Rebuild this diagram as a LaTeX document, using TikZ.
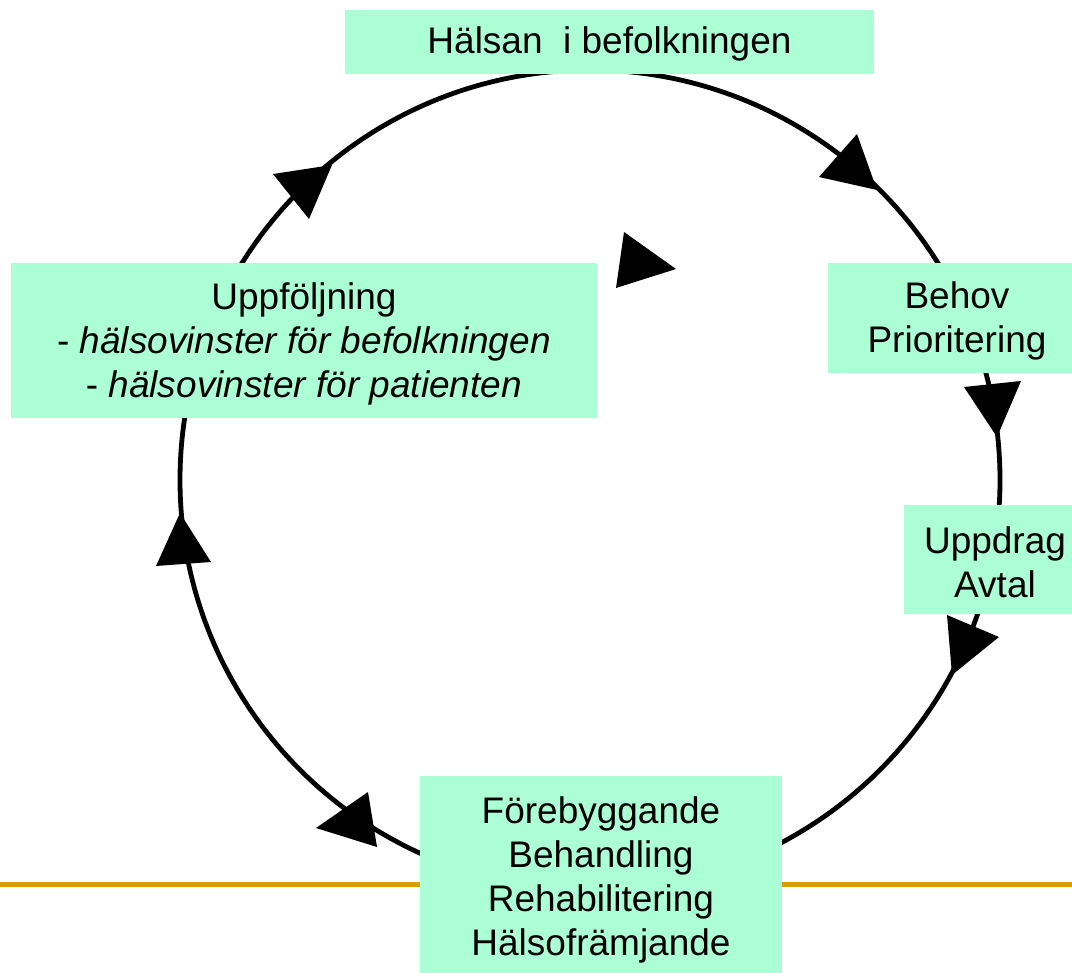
\documentclass[tikz,border=0pt]{standalone}
\usepackage{fontspec}
\setmainfont{Liberation Sans}
\definecolor{mint}{RGB}{172,255,213}
\definecolor{gold}{RGB}{212,160,0}
\tikzset{
  box/.style={fill=mint, inner sep=0pt},
  txt/.style={inner sep=0pt, align=center, font=\fontsize{37}{44}\selectfont, text=black},
  ring/.style={line width=4.8pt, black},
  head/.style={fill=black}
}
\begin{document}
\begin{tikzpicture}[x=1pt,y=-1pt]
\useasboundingbox (0,0) rectangle (1072,973);
% gold rule
\draw[gold, line width=5pt] (0,884) -- (1072,884);
% cycle circle
\draw[ring] (590,480) circle[radius=410];
% arrowheads
\fill[head] (332,165) -- (273,174) -- (309,219) -- cycle;
\fill[head] (877,190) -- (857,134) -- (819,177) -- cycle;
\fill[head] (676,269) -- (624,232) -- (616,288) -- cycle;
\fill[head] (997,437) -- (964,387) -- (1021,381) -- cycle;
\fill[head] (952,675) -- (947,615) -- (999,637) -- cycle;
\fill[head] (316,828) -- (368,792) -- (377,847) -- cycle;
\fill[head] (180,513) -- (156,566) -- (211,562) -- cycle;
% boxes
\node[box, minimum width=529pt, minimum height=64pt] (halsan) at (609.5,42) {};
\node[txt] (halsanT) at ([yshift=-2pt]halsan.center) {Hälsan\ \ i befolkningen};
\node[box, minimum width=586pt, minimum height=155pt] (uppf) at (304,340.5) {};
\node[txt] (uppfT) at ([yshift=-3pt]uppf.center)
  {Uppföljning\\- \textit{hälsovinster för befolkningen}\\- \textit{hälsovinster för patienten}};
\node[box, minimum width=258pt, minimum height=110pt] (behov) at (957,318) {};
\node[txt] (behovT) at ([yshift=-3pt]behov.center) {Behov\\Prioritering};
\node[box, minimum width=182pt, minimum height=109pt] (uppdrag) at (995,559.5) {};
\node[txt] (uppdragT) at ([yshift=-3pt]uppdrag.center) {Uppdrag\\Avtal};
\node[box, minimum width=362pt, minimum height=204pt] (forb) at (601,878) {};
\node[txt] (forbT) at ([yshift=-2pt]forb.center)
  {Förebyggande\\Behandling\\Rehabilitering\\Hälsofrämjande};
\end{tikzpicture}
\end{document}
